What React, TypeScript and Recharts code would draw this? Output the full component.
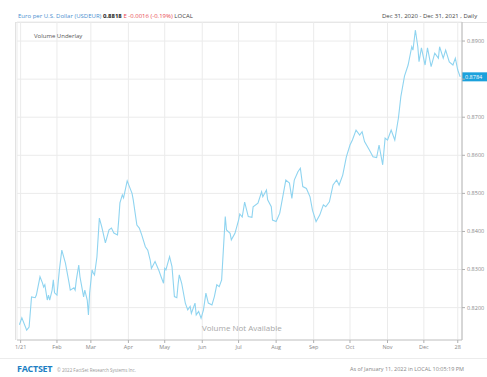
import React from 'react';
import {
  LineChart,
  Line,
  CartesianGrid,
  XAxis,
  YAxis,
  ReferenceLine
} from 'recharts';

// day of year (2021) and USDEUR closing rate
const days = [
  0, 2, 6, 8, 10, 13, 14, 17, 19, 20, 21, 23, 24, 25, 27, 28, 29, 31, 33, 35,
  38, 41, 42, 45, 46, 47, 49, 50, 52, 53, 54, 56, 57, 58, 60, 61, 62, 64, 66, 68,
  71, 74, 76, 78, 81, 82, 83, 85, 86, 89, 93, 94, 97, 99, 101, 104, 106, 108, 109, 112,
  115, 117, 119, 120, 121, 124, 126, 128, 130, 131, 132, 134, 137, 139, 141, 142, 145, 146, 148, 150,
  152, 154, 156, 159, 161, 163, 165, 167, 170, 171, 174, 175, 178, 181, 182, 184, 186, 189, 192, 193,
  197, 200, 201, 204, 205, 208, 209, 212, 215, 218, 220, 223, 225, 227, 230, 232, 234, 237, 240, 242,
  245, 248, 251, 253, 256, 259, 262, 264, 267, 270, 273, 275, 278, 281, 283, 285, 289, 292, 295, 297,
  300, 302, 304, 307, 310, 313, 315, 318, 321, 324, 325, 327, 329, 330, 332, 335, 337, 340, 343, 346,
  347, 350, 352, 355, 358, 360, 362, 364
];

const rates = [
  0.8155, 0.8173, 0.8141, 0.8149, 0.8228, 0.8226, 0.8233, 0.8281, 0.8265, 0.8254, 0.8260, 0.8220, 0.8233, 0.8220, 0.8246, 0.8273, 0.8239, 0.8233, 0.8299, 0.8351,
  0.8317, 0.8265, 0.8246, 0.8252, 0.8246, 0.8273, 0.8312, 0.8281, 0.8246, 0.8228, 0.8246, 0.8220, 0.8181, 0.8239, 0.8299, 0.8291, 0.8286, 0.8333, 0.8435, 0.8412,
  0.8370, 0.8404, 0.8409, 0.8396, 0.8391, 0.8430, 0.8475, 0.8496, 0.8488, 0.8533, 0.8500, 0.8483, 0.8417, 0.8409, 0.8391, 0.8360, 0.8351, 0.8325, 0.8303, 0.8321,
  0.8299, 0.8281, 0.8264, 0.8303, 0.8299, 0.8334, 0.8308, 0.8229, 0.8226, 0.8260, 0.8286, 0.8264, 0.8212, 0.8194, 0.8203, 0.8185, 0.8212, 0.8181, 0.8190, 0.8172,
  0.8194, 0.8238, 0.8212, 0.8207, 0.8229, 0.8260, 0.8255, 0.8273, 0.8439, 0.8404, 0.8395, 0.8378, 0.8395, 0.8430, 0.8446, 0.8438, 0.8477, 0.8439, 0.8437, 0.8465,
  0.8474, 0.8504, 0.8491, 0.8509, 0.8483, 0.8465, 0.8430, 0.8426, 0.8448, 0.8500, 0.8535, 0.8527, 0.8487, 0.8535, 0.8557, 0.8566, 0.8518, 0.8513, 0.8491, 0.8456,
  0.8426, 0.8443, 0.8470, 0.8465, 0.8478, 0.8522, 0.8535, 0.8522, 0.8548, 0.8596, 0.8627, 0.8640, 0.8666, 0.8653, 0.8662, 0.8636, 0.8614, 0.8596, 0.8594, 0.8627,
  0.8575, 0.8645, 0.8640, 0.8666, 0.8640, 0.8698, 0.8754, 0.8808, 0.8837, 0.8885, 0.8876, 0.8929, 0.8885, 0.8846, 0.8882, 0.8837, 0.8882, 0.8833, 0.8868, 0.8855,
  0.8885, 0.8855, 0.8876, 0.8845, 0.8837, 0.8855, 0.8824, 0.8806
];

const monthTicks = [1, 31, 59, 90, 120, 151, 181, 212, 243, 273, 304, 334, 362];
const monthLabels = ['1/21', 'Feb', 'Mar', 'Apr', 'May', 'Jun', 'Jul', 'Aug', 'Sep', 'Oct', 'Nov', 'Dec', '28'];
const rateTicks = [0.82, 0.83, 0.84, 0.85, 0.86, 0.87, 0.88, 0.89];
const hiddenRateTick = 0.88; // covered by the last-value tag
const lastLabel = '0.8784';

const data = days.map((d, i) => ({ day: d, rate: rates[i] }));
const lastRate = rates[rates.length - 1];

const FONT = '"Open Sans", "DejaVu Sans", sans-serif';

const LastTag = (props: any) => {
  const vb = props.viewBox || {};
  const x = vb.x + vb.width;
  const y = vb.y;
  return (
    <g>
      <rect x={x} y={y - 4.5} width={25} height={9} fill="#1ba1dc" />
      <text x={x + 3} y={y + 2} fontSize={5.5} fill="#ffffff" fontFamily={FONT}>
        {lastLabel}
      </text>
    </g>
  );
};

export default function App() {
  return (
    <div
      style={{
        position: 'absolute',
        left: 0,
        top: 0,
        width: 487,
        height: 377,
        background: '#fff',
        overflow: 'hidden',
        fontFamily: FONT
      }}
    >
      <div style={{ position: 'absolute', left: 18, top: 12, fontSize: 6, whiteSpace: 'nowrap', lineHeight: '8px' }}>
        <span style={{ color: '#4a8fd0' }}>Euro per U.S. Dollar (USDEUR) </span>
        <span style={{ color: '#222', fontWeight: 700 }}>0.8818 </span>
        <span style={{ color: '#e8494f' }}>E -0.0016 (-0.19%) </span>
        <span style={{ color: '#444' }}>LOCAL</span>
      </div>
      <div style={{ position: 'absolute', left: 382, top: 12, fontSize: 6, whiteSpace: 'nowrap', lineHeight: '8px', color: '#444' }}>
        Dec 31, 2020 - Dec 31, 2021 , Daily
      </div>
      <div style={{ position: 'absolute', left: 15, top: 22, width: 472, height: 1, background: '#e2e2e2' }} />
      <div style={{ position: 'absolute', left: 15, top: 22, width: 1, height: 318, background: '#e2e2e2' }} />

      <div style={{ position: 'absolute', left: 0, top: 0 }}>
        <LineChart
          width={487}
          height={377}
          data={data}
          margin={{ top: 22, right: 0, bottom: 25, left: 17 }}
        >
          <CartesianGrid stroke="#ebebeb" strokeWidth={1} />
          <XAxis
            dataKey="day"
            type="number"
            domain={[-2, 365.5]}
            ticks={monthTicks}
            tickFormatter={(v: number) => monthLabels[monthTicks.indexOf(v)]}
            height={12}
            axisLine={{ stroke: '#c8c8c8' }}
            tickLine={{ stroke: '#b0b0b0' }}
            tickSize={3}
            tick={{ fontSize: 5.5, fill: '#888', fontFamily: FONT }}
            interval={0}
          />
          <YAxis
            orientation="right"
            type="number"
            domain={[0.8115, 0.895]}
            ticks={rateTicks}
            tickFormatter={(v: number) => (v === hiddenRateTick ? '' : v.toFixed(4))}
            width={25}
            axisLine={{ stroke: '#b8b8b8' }}
            tickLine={{ stroke: '#b0b0b0' }}
            tickSize={3}
            tick={{ fontSize: 5.5, fill: '#888', fontFamily: FONT }}
            allowDataOverflow
          />
          <ReferenceLine y={lastRate} stroke="none" label={<LastTag />} />
          <Line
            type="linear"
            dataKey="rate"
            stroke="#8fd4f0"
            strokeWidth={1.1}
            dot={false}
            isAnimationActive={false}
          />
        </LineChart>
      </div>

      <div style={{ position: 'absolute', left: 34, top: 32, fontSize: 6, color: '#555', whiteSpace: 'nowrap', lineHeight: '8px' }}>
        Volume Underlay
      </div>
      <div style={{ position: 'absolute', left: 202, top: 323, fontSize: 8, color: '#a8a8a8', whiteSpace: 'nowrap', lineHeight: '10px' }}>
        Volume Not Available
      </div>

      <div style={{ position: 'absolute', left: 0, top: 358, width: 487, height: 1, background: '#ececec' }} />
      <div style={{ position: 'absolute', left: 17, top: 364, fontSize: 9, fontWeight: 700, color: '#1d7fc4', whiteSpace: 'nowrap', lineHeight: '10px', letterSpacing: -0.3 }}>
        FACTSET
      </div>
      <div style={{ position: 'absolute', left: 57, top: 367, fontSize: 4.5, color: '#999', whiteSpace: 'nowrap', lineHeight: '6px' }}>
        © 2022 FactSet Research Systems Inc.
      </div>
      <div style={{ position: 'absolute', left: 350, top: 366, fontSize: 5.5, color: '#888', whiteSpace: 'nowrap', lineHeight: '7px' }}>
        As of January 11, 2022 in LOCAL 10:05:19 PM
      </div>
    </div>
  );
}
